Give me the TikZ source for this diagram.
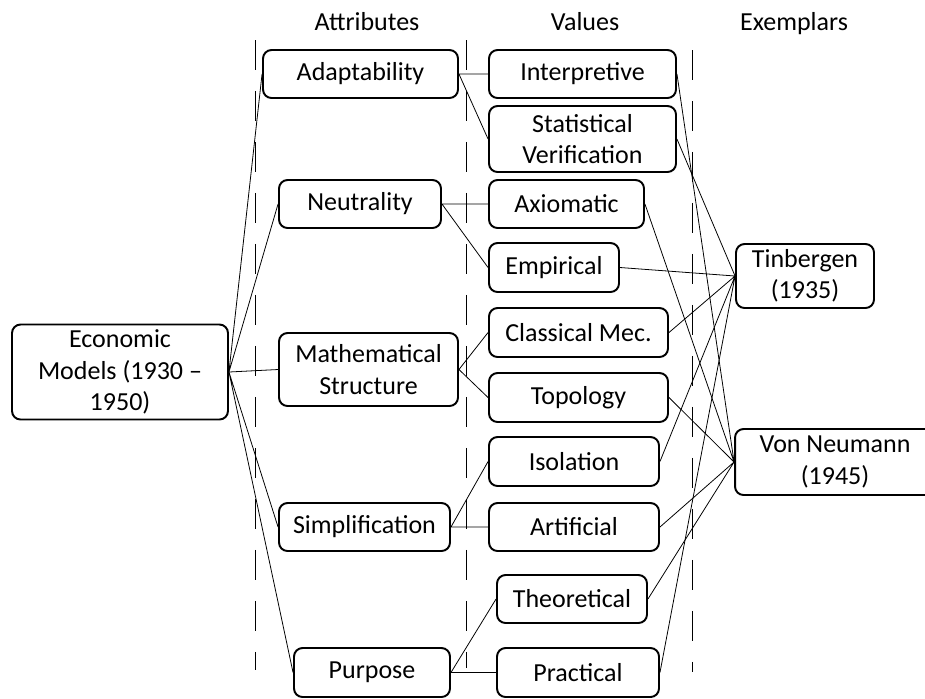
\documentclass[tikz,border=0pt]{standalone}
\usepackage{fontspec}
\setmainfont{Carlito}

\begin{document}
\begin{tikzpicture}[x=0.02cm, y=-0.02cm,
    box/.style={draw, line width=1.1pt, rounded corners=0.17cm, align=center, inner sep=0pt, font=\fontsize{14.8}{17.8}\selectfont},
    link/.style={line width=0.45pt},
    guide/.style={line width=0.45pt, dash pattern=on 0.6cm off 0.42cm},
    head/.style={anchor=base, font=\fontsize{14.8}{17.8}\selectfont}]

    \useasboundingbox (0,0) rectangle (925,698);

    \node[head] (hattr) at (367,30) {Attributes};
    \node[head] (hval) at (585,30) {Values};
    \node[head] (hexm) at (794,30) {Exemplars};

    \draw[guide] (255,40) -- (255,670);
    \draw[guide] (466,40) -- (466,668);
    \draw[guide] (692,50) -- (692,672);

    \node[box, minimum width=4.32cm, minimum height=1.9cm] (econ) at (120,372) {Economic\\Models (1930 \textendash\\1950)};

    \node[box, minimum width=3.9cm, minimum height=0.96cm] (adapt) at (360.5,74) {Adaptability};
    \node[box, minimum width=3.24cm, minimum height=0.96cm] (neutral) at (360,204) {Neutrality};
    \node[box, minimum width=3.58cm, minimum height=1.46cm] (math) at (368.5,369.5) {Mathematical\\Structure};
    \node[box, minimum width=3.42cm, minimum height=0.96cm] (simp) at (364.5,527) {Simplification};
    \node[box, minimum width=3.12cm, minimum height=0.98cm] (purpose) at (372,672.5) {Purpose};

    \node[box, minimum width=3.74cm, minimum height=0.96cm] (interp) at (582.5,74) {Interpretive};
    \node[box, minimum width=3.74cm, minimum height=1.32cm] (stat) at (582.5,139) {Statistical\\Verification};
    \node[box, minimum width=3.1cm, minimum height=0.96cm] (axiom) at (566.5,204) {Axiomatic};
    \node[box, minimum width=2.6cm, minimum height=0.98cm] (empir) at (554,267.5) {Empirical};
    \node[box, minimum width=3.58cm, minimum height=0.98cm] (classic) at (578.5,332.5) {Classical Mec.};
    \node[box, minimum width=3.58cm, minimum height=0.98cm] (topol) at (578.5,397.5) {Topology};
    \node[box, minimum width=3.4cm, minimum height=0.98cm] (isol) at (574,461.5) {Isolation};
    \node[box, minimum width=3.4cm, minimum height=0.96cm] (artif) at (574,527) {Artificial};
    \node[box, minimum width=3.0cm, minimum height=0.96cm] (theor) at (572,599) {Theoretical};
    \node[box, minimum width=3.24cm, minimum height=0.98cm] (pract) at (578,672.5) {Practical};

    \node[box, minimum width=2.76cm, minimum height=1.28cm] (tinb) at (805,276) {Tinbergen\\(1935)};
    \node[box, minimum width=4.0cm, minimum height=1.32cm] (neum) at (835,462) {Von Neumann\\(1945)};

    \draw[link] (econ.east) -- (adapt.west) (econ.east) -- (neutral.west) (econ.east) -- (math.west)
        (econ.east) -- (simp.west) (econ.east) -- (purpose.west);

    \draw[link] (adapt.east) -- (interp.west) (adapt.east) -- (stat.west);
    \draw[link] (neutral.east) -- (axiom.west) (neutral.east) -- (empir.west);
    \draw[link] (math.east) -- (classic.west) (math.east) -- (topol.west);
    \draw[link] (simp.east) -- (isol.west) (simp.east) -- (artif.west);
    \draw[link] (purpose.east) -- (theor.west) (purpose.east) -- (pract.west);

    \draw[link] (stat.east) -- (tinb.west) (empir.east) -- (tinb.west) (classic.east) -- (tinb.west)
        (isol.east) -- (tinb.west) (pract.east) -- (tinb.west);
    \draw[link] (interp.east) -- (neum.west) (axiom.east) -- (neum.west) (topol.east) -- (neum.west)
        (artif.east) -- (neum.west) (theor.east) -- (neum.west);

\end{tikzpicture}
\end{document}
